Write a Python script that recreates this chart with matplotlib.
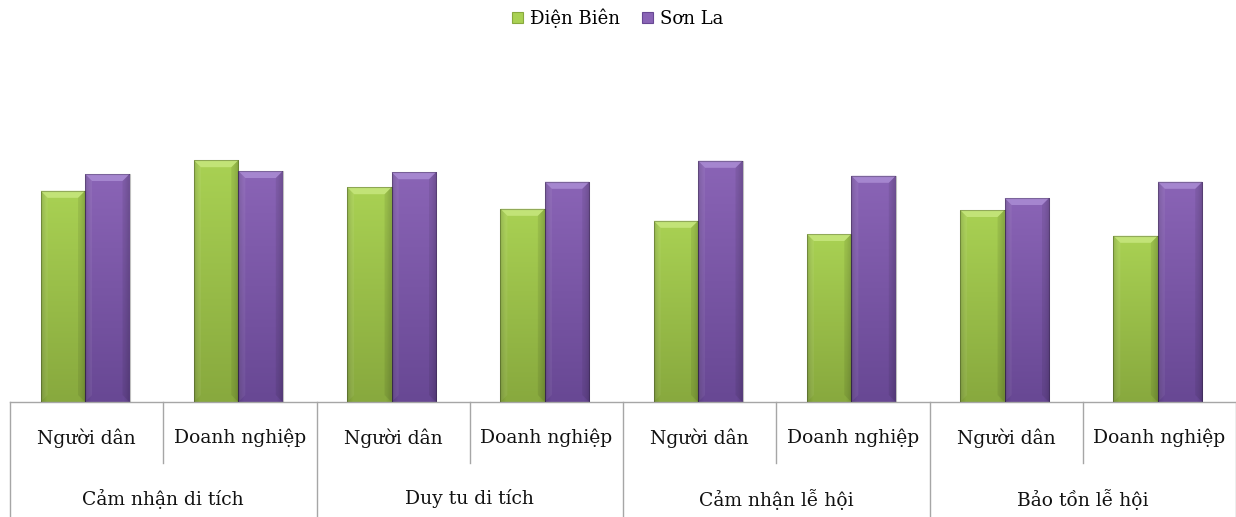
import numpy as np
import matplotlib
matplotlib.use("Agg")
import matplotlib.pyplot as plt
from matplotlib.patches import Rectangle, Polygon, Patch
from matplotlib.transforms import blended_transform_factory
from matplotlib.colors import to_rgb

plt.rcParams['font.family'] = ['DejaVu Serif']

# Data
groups = ["Cảm nhận di tích", "Duy tu di tích", "Cảm nhận lễ hội", "Bảo tồn lễ hội"]
subgroups = ["Người dân", "Doanh nghiệp"]
series_names = ["Điện Biên", "Sơn La"]
dien_bien = [3.52, 4.03, 3.58, 3.22, 3.02, 2.80, 3.20, 2.77]
son_la = [3.80, 3.85, 3.83, 3.67, 4.02, 3.77, 3.40, 3.67]

# Styling: (top, bottom, bevel highlight) per series
palettes = [
    ("#a9d153", "#88a93e", "#c6e67c"),
    ("#8a64b6", "#684894", "#a98ad2"),
]

W, H = 1236, 517
fig = plt.figure(figsize=(W / 100, H / 100), dpi=100)
ax = fig.add_axes([10 / W, (H - 402) / H, (W - 10) / W, 300 / H])
ax.set_xlim(-0.5, 7.5)
ax.set_ylim(0, 5.0)
ax.axis("off")

bar_w = 0.29
x = np.arange(len(dien_bien))

# pixel -> data scales for bevel sizing
px_x = 1 / ((W - 10) / 8)
px_y = 5.0 / 300


def shaded_bar(xc, h, top, bottom, hi):
    x0, x1 = xc - bar_w / 2, xc + bar_w / 2
    ny, nx = 64, 32
    t = np.linspace(1, 0, ny)[:, None]  # row 0 is the top of the image
    ct, cb = np.array(to_rgb(top)), np.array(to_rgb(bottom))
    img = cb[None, None, :] * (1 - t[..., None]) + ct[None, None, :] * t[..., None]
    img = np.repeat(img, nx, axis=1)
    u = np.linspace(0, 1, nx)
    edge = 1 - 0.12 * np.clip(1 - np.minimum(u, 1 - u) / 0.12, 0, 1)
    img = img * edge[None, :, None]
    im = ax.imshow(img, extent=(x0, x1, 0, h), aspect="auto", zorder=2,
                   interpolation="bilinear")
    rect = Rectangle((x0, 0), bar_w, h, facecolor="none", edgecolor="none")
    ax.add_patch(rect)
    im.set_clip_path(rect)
    # bevel on the top face
    bx, by = 7 * px_x, 7 * px_y
    ax.add_patch(Polygon([(x0, h), (x1, h), (x1 - bx, h - by), (x0 + bx, h - by)],
                         closed=True, facecolor=hi, edgecolor="none", alpha=0.9, zorder=3))
    ax.add_patch(Polygon([(x0, h), (x0 + bx, h - by), (x0 + bx, by), (x0, 0)],
                         closed=True, facecolor="white", edgecolor="none", alpha=0.06, zorder=3))
    ax.add_patch(Polygon([(x1, h), (x1 - bx, h - by), (x1 - bx, by), (x1, 0)],
                         closed=True, facecolor="black", edgecolor="none", alpha=0.08, zorder=3))
    # thin dark outline
    ax.add_patch(Rectangle((x0, 0), bar_w, h, facecolor="none",
                           edgecolor=(0, 0, 0, 0.25), linewidth=0.8, zorder=4))


for i in range(len(x)):
    shaded_bar(x[i] - bar_w / 2 - 0.01, dien_bien[i], *palettes[0])
    shaded_bar(x[i] + bar_w / 2 - 0.01, son_la[i], *palettes[1])

# Two-level category axis drawn as a table below the plot
tr = blended_transform_factory(ax.transData, ax.transAxes)
line_kw = dict(color="#a6a6a6", linewidth=1.0, transform=tr, clip_on=False)
ax.plot([-0.5, 7.5], [0, 0], **line_kw)
axes_px = 300
for b in [-0.5, 1.5, 3.5, 5.5, 7.5]:
    ax.plot([b, b], [0, -115 / axes_px], **line_kw)
for b in [0.5, 2.5, 4.5, 6.5]:
    ax.plot([b, b], [0, -61 / axes_px], **line_kw)

for i in range(len(x)):
    ax.text(x[i], -36 / axes_px, subgroups[i % 2], transform=tr, ha="center",
            va="center", fontsize=13.5, color="#111111")
for g, name in enumerate(groups):
    ax.text(2 * g + 0.5, -97 / axes_px, name, transform=tr, ha="center",
            va="center", fontsize=13.5, color="#111111")

handles = [Patch(facecolor=palettes[k][0], edgecolor=palettes[k][1], linewidth=0.8)
           for k in range(2)]
fig.legend(handles, series_names, loc="center", bbox_to_anchor=(0.5, 1 - 18 / H),
           ncol=2, frameon=False, fontsize=13, handlelength=0.6, handleheight=0.6,
           handletextpad=0.4, columnspacing=1.2)

fig.savefig("out.png", dpi=100)
